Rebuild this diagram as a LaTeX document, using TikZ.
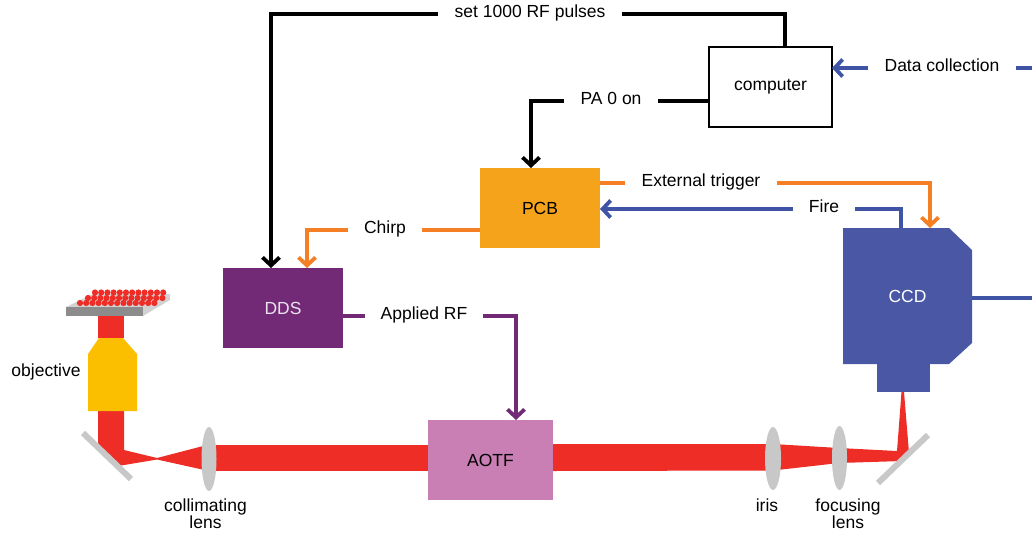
\documentclass[tikz,border=0pt]{standalone}
\usepackage{fontspec}
\setmainfont{Liberation Sans}
\usetikzlibrary{arrows.meta,calc}

\definecolor{beamred}{HTML}{ED2D26}
\definecolor{wireorange}{HTML}{F47F24}
\definecolor{pcbfill}{HTML}{F5A31B}
\definecolor{wireblue}{HTML}{4054A6}
\definecolor{ccdfill}{HTML}{4A57A5}
\definecolor{ddspurple}{HTML}{722A77}
\definecolor{aotffill}{HTML}{C97EB4}
\definecolor{objyellow}{HTML}{FBBF00}
\definecolor{optgray}{HTML}{C8C8C8}
\definecolor{slidedark}{HTML}{8C8C8C}
\definecolor{slidelight}{HTML}{D2D2D2}
\definecolor{ddstext}{HTML}{ECE2EE}

\begin{document}
\begin{tikzpicture}[x=1pt,y=-1pt,
  font=\fontsize{17.5}{20}\selectfont,
  blockbox/.style={rectangle, inner sep=0pt, outer sep=0pt,
              minimum width=120pt, minimum height=80pt},
  wirelabel/.style={inner xsep=16pt, inner ysep=0pt, text height=12pt, text depth=5pt},
  optcaption/.style={align=center, font=\fontsize{17.5}{17}\selectfont},
  wireline/.style={line width=3.8pt},
  barbtip/.style={-{Straight Barb[length=8pt,width=17pt]}}]

\useasboundingbox (0,0) rectangle (1032,533);

% ---------- laser beam ----------
\fill[beamred] (98,316) rectangle (124,338);
\fill[beamred] (98,410) -- (124,410) -- (124,450) -- (157,458) -- (209,444.5)
  -- (209,471) -- (157,459.5) -- (118,466) -- (98,446) -- cycle;
\fill[beamred] (209,444.5) rectangle (430,471);
\fill[beamred] (553,444) -- (773,444) -- (839,448) -- (897,451) -- (901.5,392)
  -- (904,392) -- (909,453) -- (902,461) -- (839,463) -- (773,470.5)
  -- (553,471) -- cycle;

% ---------- lenses and mirrors ----------
\fill[optgray] (209,459) ellipse [x radius=7.5, y radius=32];
\fill[optgray] (773,458.5) ellipse [x radius=8, y radius=31.5];
\fill[optgray] (839.5,458) ellipse [x radius=7.5, y radius=32];
\draw[optgray, line width=6pt] (83,433) -- (131,479);
\draw[optgray, line width=6pt] (878,483) -- (928,435);

% ---------- objective ----------
\fill[objyellow] (99,338) -- (123,338) -- (137,354) -- (137,411)
  -- (88,411) -- (88,354) -- cycle;

% ---------- sample slide with cells ----------
\fill[slidelight] (66,307) -- (143,307) -- (170,294) -- (93,294) -- cycle;
\fill[slidelight] (143,307) -- (170,294) -- (170,300) -- (143,316) -- cycle;
\fill[slidedark] (66,307) rectangle (143,316);
\foreach \i in {0,...,11} {
  \fill[beamred] (95+6.2*\i,292.5) circle (3.1);
}
\foreach \i in {0,...,12} {
  \fill[beamred] (88+6.2*\i,298) circle (3.1);
}
\foreach \i in {0,...,12} {
  \fill[beamred] (80+6.2*\i,303) circle (3.1);
}

% ---------- camera body ----------
\fill[ccdfill] (843,228) -- (949,228) -- (972,250) -- (972,343) -- (949,364)
  -- (843,364) -- cycle;
\fill[ccdfill] (877,363) rectangle (930,392);

% ---------- boxes ----------
\node[blockbox, draw, line width=1.5pt, minimum width=123pt] (computer) at (770.5,87) {computer};
\node[blockbox, fill=pcbfill] (pcb) at (540,208) {PCB};
\node[blockbox, fill=ddspurple, text=ddstext] (dds) at (283,308) {DDS};
\node[blockbox, fill=aotffill, minimum width=125pt] (aotf) at (490.5,460) {AOTF};
\node[blockbox, minimum width=129pt, minimum height=136pt, text=white] (ccd) at (907.5,296) {CCD};

% ---------- connector labels ----------
\node[wirelabel] (lset)   at (530,14)  {set 1000 RF pulses};
\node[wirelabel] (lpa)    at (611,101) {PA 0 on};
\node[wirelabel] (lchirp) at (385,230) {Chirp};
\node[wirelabel] (lrf)    at (424,316) {Applied RF};
\node[wirelabel] (lext)   at (701,183) {External trigger};
\node[wirelabel] (lfire)  at (824,209) {Fire};
\node[wirelabel] (ldata)  at (942,68)  {Data collection};
\coordinate (dataout) at (1032,68);
\coordinate (ccdout)  at (1032,298);

% ---------- optics captions ----------
\node[optcaption] (objlbl) at (46,372) {objective};
\node[optcaption] (colllbl) at (205.5,513.5) {collimating\\lens};
\node[optcaption] (irislbl) at (767,505) {iris};
\node[optcaption] (foclbl) at (848,513.5) {focusing\\lens};

% ---------- control wires ----------
\draw[wireline, barbtip] ([xshift=14.5pt]computer.north) |- (lset) -| ([xshift=-12pt]dds.north);
\draw[wireline, barbtip] ([yshift=-14pt]computer.west) -- (lpa) -| ([xshift=-9pt]pcb.north);
\draw[wireline, wireorange, barbtip] ([yshift=-22pt]pcb.west) -- (lchirp) -| ([xshift=24pt]dds.north);
\draw[wireline, ddspurple, barbtip] ([yshift=-8pt]dds.east) -- (lrf) -| ([xshift=25.5pt]aotf.north);
\draw[wireline, wireorange, barbtip] ([yshift=25pt]pcb.east) -- (lext) -| ([xshift=22.5pt]ccd.north);
\draw[wireline, wireblue, barbtip] ([xshift=-6.5pt]ccd.north) |- (lfire) -- ([yshift=-1pt]pcb.east);
\draw[wireline, wireblue, barbtip] (ldata) -- ([yshift=19pt]computer.east);
\draw[wireline, wireblue] (ldata) -- (dataout);
\draw[wireline, wireblue] ([yshift=-2pt]ccd.east) -- (ccdout);

\end{tikzpicture}
\end{document}
